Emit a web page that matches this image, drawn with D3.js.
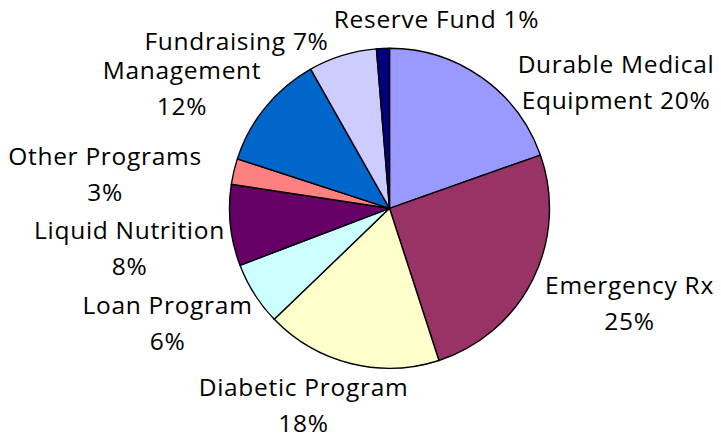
<!DOCTYPE html>
<html>
<head>
<meta charset="utf-8">
<script src="https://cdn.jsdelivr.net/npm/d3@7"></script>
<style>
  html, body { margin: 0; padding: 0; background: #ffffff; }
  svg { display: block; }
  text { font-family: "Open Sans", "Noto Sans", sans-serif; fill: #000; }
</style>
</head>
<body>
<div id="chart"></div>
<script>
// ---- data ----
const categories = ["Durable Medical Equipment", "Emergency Rx", "Diabetic Program", "Loan Program",
                    "Liquid Nutrition", "Other Programs", "Management", "Fundraising", "Reserve Fund"];
const values = [19.6, 25.4, 17.8, 6.4, 8.2, 2.6, 11.8, 6.9, 1.3];
const colors = ["#9999ff", "#993366", "#ffffcc", "#ccffff", "#660066", "#ff8080", "#0066cc", "#ccccff", "#000080"];
// label line breaks: text before the percentage for each line
const labelLines = [
  ["Durable Medical", "Equipment {p}"],
  ["Emergency Rx", "{p}"],
  ["Diabetic Program", "{p}"],
  ["Loan Program", "{p}"],
  ["Liquid Nutrition", "{p}"],
  ["Other Programs", "{p}"],
  ["Management", "{p}"],
  ["Fundraising {p}"],
  ["Reserve Fund {p}"]
];

// ---- layout ----
const W = 721, H = 440;
const cx = 389.5, cy = 208.3, R = 160;
const fontSize = 24.5, lineH = 36;
// label placement relative to pie center (text centre x, first baseline y)
const labelLayout = [
  [226.5, -135], [240, 86], [-86, 188], [-222, 106], [-260, 31],
  [-284.5, -43], [-207.5, -129], [-153, -158], [47, -180]
];

const svg = d3.select("#chart").append("svg").attr("width", W).attr("height", H);
const g = svg.append("g").attr("transform", `translate(${cx},${cy})`);

const total = d3.sum(values);
const pie = d3.pie().sort(null).value(d => d);
const arcs = pie(values);
const arc = d3.arc().innerRadius(0).outerRadius(R);

g.selectAll("path.slice")
  .data(arcs)
  .join("path")
  .attr("class", "slice")
  .attr("d", arc)
  .attr("fill", (d, i) => colors[i])
  .attr("stroke", "#000")
  .attr("stroke-width", 1.4)
  .attr("stroke-linejoin", "round");

const labels = g.selectAll("text.lbl")
  .data(arcs)
  .join("text")
  .attr("class", "lbl")
  .attr("text-anchor", "middle")
  .attr("font-size", fontSize)
  .attr("letter-spacing", 0.7)
  .attr("transform", (d, i) => `translate(${labelLayout[i][0]},${labelLayout[i][1]})`);

labels.each(function(d, i) {
  const pct = Math.round(d.value / total * 100) + "%";
  const t = d3.select(this);
  labelLines[i].forEach((line, j) => {
    t.append("tspan")
      .attr("x", 0)
      .attr("y", j * lineH)
      .text(line.replace("{p}", pct));
  });
});
</script>
</body>
</html>
